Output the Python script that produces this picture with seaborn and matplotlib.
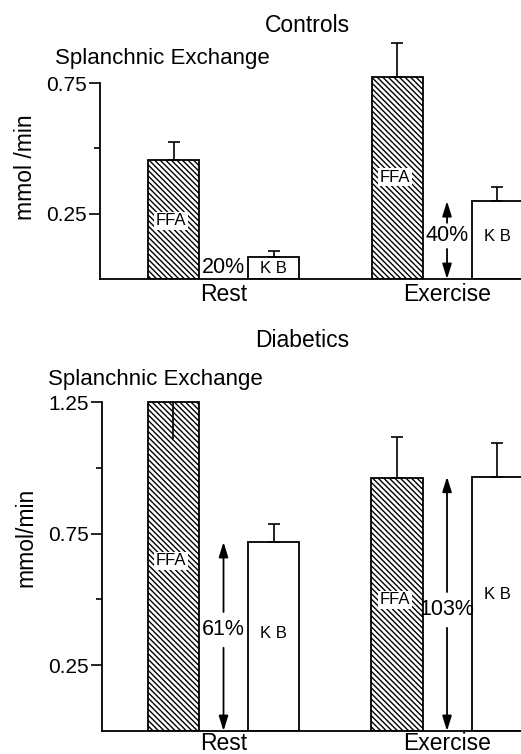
import matplotlib
matplotlib.use("Agg")
import matplotlib.pyplot as plt
import numpy as np
import pandas as pd
import seaborn as sns

# ---------------- data ----------------
conditions = ["Rest", "Exercise"]
substrates = ["FFA", "KB"]

ctrl_ffa = [0.455, 0.773]
ctrl_kb = [0.084, 0.298]
ctrl_ffa_err = [0.069, 0.130]
ctrl_kb_err = [0.023, 0.054]
ctrl_pct = ["20%", "40%"]
ctrl_arrow = [False, True]

diab_ffa = [1.25, 0.962]
diab_kb = [0.718, 0.966]
diab_ffa_err = [0.141, 0.156]
diab_ffa_err_down = [True, False]
diab_kb_err = [0.068, 0.129]
diab_pct = ["61%", "103%"]
diab_arrow = [True, True]

ctrl_major = [0.25, 0.75]
ctrl_minor = [0.5]
diab_major = [0.25, 0.75, 1.25]
diab_minor = [0.5, 1.0]

# ---------------- style ----------------
sns.set_theme(style="ticks")
plt.rcParams["font.family"] = ["Liberation Sans", "DejaVu Sans"]
plt.rcParams["hatch.linewidth"] = 1.0
plt.rcParams["hatch.color"] = "black"
for k in ["text.color", "axes.labelcolor", "xtick.color", "ytick.color",
          "xtick.labelcolor", "ytick.labelcolor", "axes.edgecolor"]:
    plt.rcParams[k] = "black"

W, H = 521, 754
fig = plt.figure(figsize=(W / 100, H / 100), dpi=100)
fig.patch.set_facecolor("white")

ARROW = dict(arrowstyle="-|>,head_length=0.9,head_width=0.28", mutation_scale=10,
             lw=1.3, color="black", shrinkA=0, shrinkB=0)


def panel(ax, ffa, kb, ffa_err, kb_err, ffa_down, pct, arrows, major, minor,
          ylim, xlim, ffa_lab_y, kb_lab_y, pct_y, gap, xpad):
    df = pd.DataFrame({
        "condition": conditions * 2,
        "substrate": ["FFA"] * 2 + ["KB"] * 2,
        "value": list(ffa) + list(kb),
    })
    sns.barplot(data=df, x="condition", y="value", hue="substrate",
                order=conditions, hue_order=substrates,
                palette=["white", "white"], saturation=1,
                edgecolor="black", linewidth=1.3, width=0.895, gap=0.49,
                errorbar=None, legend=False, ax=ax)
    ffa_bars = list(ax.containers[0])
    kb_bars = list(ax.containers[1])
    for b in ffa_bars:
        b.set_hatch("\\" * 6)

    # error bars
    for bars, vals, errs, downs in [(ffa_bars, ffa, ffa_err, ffa_down),
                                    (kb_bars, kb, kb_err, [False, False])]:
        for b, v, e, d in zip(bars, vals, errs, downs):
            xc = b.get_x() + b.get_width() / 2
            yerr = [[e], [0]] if d else [[0], [e]]
            ax.errorbar([xc], [v], yerr=yerr, fmt="none", ecolor="black",
                        elinewidth=1.2, capsize=0 if d else 4, capthick=1.2,
                        zorder=3)

    # in-bar labels
    for b, y in zip(ffa_bars, ffa_lab_y):
        xc = b.get_x() + b.get_width() / 2
        ax.text(xc - 0.01, y, "FFA", ha="center", va="center", fontsize=12,
                bbox=dict(facecolor="white", edgecolor="none", pad=1.2), zorder=4)
    for b, y in zip(kb_bars, kb_lab_y):
        xc = b.get_x() + b.get_width() / 2
        ax.text(xc, y, "K B", ha="center", va="center", fontsize=12, zorder=4)

    # percentage labels and arrows
    for i in range(2):
        f, k = ffa_bars[i], kb_bars[i]
        xm = (f.get_x() + f.get_width() + k.get_x()) / 2
        ax.text(xm, pct_y[i], pct[i], ha="center", va="center", fontsize=15.5,
                zorder=5)
        if arrows[i]:
            ax.annotate("", xy=(xm, kb[i]), xytext=(xm, pct_y[i] + gap),
                        arrowprops=ARROW, zorder=5)
            ax.annotate("", xy=(xm, 0), xytext=(xm, pct_y[i] - gap),
                        arrowprops=ARROW, zorder=5)

    ax.set_xlim(*xlim)
    ax.set_ylim(*ylim)
    ax.set_yticks(major)
    ax.set_yticklabels([f"{t:.2f}" for t in major])
    ax.set_yticks(minor, minor=True)
    ax.tick_params(axis="y", which="major", length=8, width=1.2, pad=1.5,
                   labelsize=15, color="black", labelcolor="black")
    ax.tick_params(axis="y", which="minor", length=4, width=1.2, color="black")
    ax.tick_params(axis="x", length=0, pad=xpad, labelsize=16.5, labelcolor="black")
    ax.set_xlabel("")
    ax.set_ylabel("")
    for s in ["top", "right"]:
        ax.spines[s].set_visible(False)
    ax.spines["left"].set_bounds(0, major[-1])
    for s in ["left", "bottom"]:
        ax.spines[s].set_linewidth(1.3)
        ax.spines[s].set_color("black")
    ax.set_facecolor("white")


# top panel: y axis at x=100 px, baseline at y=279 px
ax1 = fig.add_axes([100 / W, (H - 279) / H, 421 / W, 0.95 * 261.3 / H])
panel(ax1, ctrl_ffa, ctrl_kb, ctrl_ffa_err, ctrl_kb_err, [False, False],
      ctrl_pct, ctrl_arrow, ctrl_major, ctrl_minor,
      ylim=(0, 0.95), xlim=(-0.5526, 1.331),
      ffa_lab_y=[0.222, 0.39], kb_lab_y=[0.040, 0.161],
      pct_y=[0.044, 0.165], gap=0.05, xpad=3)

# bottom panel: y axis at x=102 px, baseline at y=731 px
ax2 = fig.add_axes([102 / W, (H - 731) / H, 419 / W, 1.3 * 263.2 / H])
panel(ax2, diab_ffa, diab_kb, diab_ffa_err, diab_kb_err, diab_ffa_err_down,
      diab_pct, diab_arrow, diab_major, diab_minor,
      ylim=(0, 1.3), xlim=(-0.5436, 1.331),
      ffa_lab_y=[0.646, 0.498], kb_lab_y=[0.372, 0.517],
      pct_y=[0.384, 0.46], gap=0.068, xpad=0.5)


def ftext(x, y, s, **kw):
    fig.text(x / W, 1 - y / H, s, **kw)


ftext(307, 32, "Controls", ha="center", va="baseline", fontsize=16.5)
ftext(55, 64, "Splanchnic Exchange", ha="left", va="baseline", fontsize=16)
ftext(26, 167, "mmol /min", ha="center", va="center", rotation=90, fontsize=16.5)

ftext(302, 347, "Diabetics", ha="center", va="baseline", fontsize=16.5)
ftext(48, 385, "Splanchnic Exchange", ha="left", va="baseline", fontsize=16)
ftext(26, 537, "mmol/min", ha="center", va="center", rotation=90, fontsize=16.5)

fig.savefig("out.png", dpi=100, facecolor="white")
